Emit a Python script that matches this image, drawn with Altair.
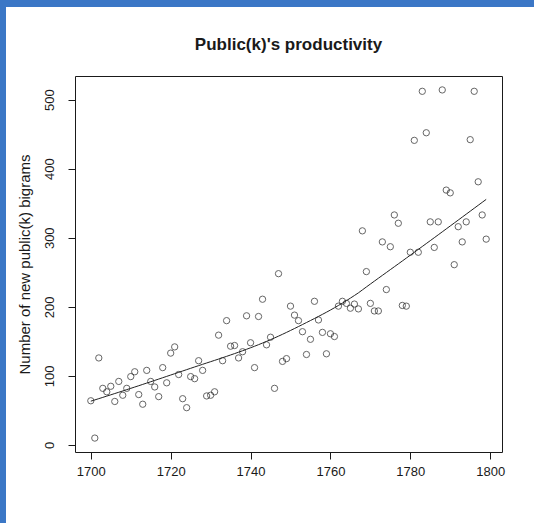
import numpy as np
import pandas as pd
import altair as alt

# New public(k) bigrams per year, 1700-1799
years = list(range(1700, 1800))
bigrams = [
    64, 10, 126, 82, 77, 85, 63, 92, 72, 82,
    99, 106, 73, 59, 108, 92, 84, 70, 112, 90,
    133, 142, 102, 67, 54, 99, 96, 122, 108, 71,
    72, 77, 159, 122, 180, 143, 144, 126, 135, 187,
    148, 112, 186, 211, 145, 156, 82, 248, 121, 125,
    201, 188, 180, 164, 131, 153, 208, 181, 163, 132,
    161, 157, 201, 208, 205, 198, 204, 197, 310, 251,
    205, 194, 194, 294, 225, 287, 333, 321, 202, 201,
    279, 441, 279, 512, 452, 323, 286, 323, 514, 369,
    365, 261, 316, 294, 323, 442, 512, 381, 333, 298,
]
x_ticks = [1700, 1720, 1740, 1760, 1780, 1800]
y_ticks = [0, 100, 200, 300, 400, 500]
title_text = "Public(k)'s productivity"


def lowess(x, y, f=2 / 3, iters=3):
    """Locally weighted linear smoother with robustness iterations (as in R's lowess)."""
    x = np.asarray(x, float)
    y = np.asarray(y, float)
    n = len(x)
    ns = max(2, min(n, int(f * n + 1e-7)))
    rw = np.ones(n)
    fitted = np.zeros(n)
    for it in range(iters + 1):
        for i in range(n):
            d = np.abs(x - x[i])
            h = np.sort(d)[ns - 1]
            u = d / h
            w = np.where(u <= 0.999, (1 - np.clip(u, 0, 1) ** 3) ** 3, 0.0)
            w = np.where(u <= 0.001, 1.0, w) * rw
            sw = w.sum()
            xm = (w * x).sum() / sw
            ym = (w * y).sum() / sw
            sxx = (w * (x - xm) ** 2).sum()
            b = (w * (x - xm) * (y - ym)).sum() / sxx if sxx > 0 else 0.0
            fitted[i] = ym + b * (x[i] - xm)
        if it == iters:
            break
        res = y - fitted
        cmad = 6 * np.median(np.abs(res))
        r = np.abs(res) / cmad
        rw = np.where(r <= 0.999, (1 - np.clip(r, 0, 1) ** 2) ** 2, 0.0)
        rw = np.where(r <= 0.001, 1.0, rw)
    return fitted


df = pd.DataFrame({"year": years, "bigrams": bigrams})
df["smooth"] = lowess(years, bigrams)

FONT = "Liberation Sans"
INK = "#1a1a1a"

x_enc = alt.X(
    "year:Q",
    scale=alt.Scale(domain=[1696.04, 1802.96], nice=False, zero=False),
    axis=alt.Axis(
        values=x_ticks, title=None, grid=False, domain=False, format="d",
        tickSize=7, tickColor=INK, labelPadding=6, labelFontSize=13,
        labelFont=FONT, labelColor=INK,
    ),
)
y_scale = alt.Scale(domain=[-10.16, 534.16], nice=False, zero=False)
y_axis = alt.Axis(
    values=y_ticks, title="Number of new public(k) bigrams", grid=False, domain=False,
    tickSize=7, tickColor=INK, labelAngle=270, labelAlign="center",
    labelBaseline="middle", labelPadding=19, labelFontSize=13, labelFont=FONT,
    labelColor=INK, titleFont=FONT, titleFontSize=15, titleFontWeight="normal",
    titleColor=INK, titleAngle=270, titleAlign="center", titleBaseline="middle",
    titleX=-51, titleY=188,
)

points = alt.Chart(df).mark_point(
    shape="circle", filled=False, size=40, stroke="#262626", strokeWidth=1
).encode(x=x_enc, y=alt.Y("bigrams:Q", scale=y_scale, axis=y_axis))

smooth = alt.Chart(df).mark_line(color="#222222", strokeWidth=1).encode(
    x="year:Q", y=alt.Y("smooth:Q", scale=y_scale)
)

# main title, centred over the plotting region
title = alt.Chart(pd.DataFrame({"t": [title_text]})).mark_text(
    font=FONT, fontSize=17, fontWeight="bold", color=INK,
    align="center", baseline="middle",
).encode(text="t:N", x=alt.value(213.5), y=alt.value(-31))

# slide frame strips along the top and left edges
frame = pd.DataFrame({"part": ["top", "left"]})
top_strip = alt.Chart(frame.iloc[:1]).mark_rect(color="#3b77c6").encode(
    x=alt.value(-75), x2=alt.value(459), y=alt.value(-76), y2=alt.value(-69)
)
left_strip = alt.Chart(frame.iloc[1:]).mark_rect(color="#3b77c6").encode(
    x=alt.value(-75), x2=alt.value(-69), y=alt.value(-69), y2=alt.value(447)
)

chart = (
    alt.layer(points, smooth, title, top_strip, left_strip)
    .properties(
        width=427,
        height=376,
        autosize=alt.AutoSizeParams(type="none"),
        padding={"left": 75, "top": 76, "right": 32, "bottom": 71},
        background="white",
    )
    .configure_view(stroke=INK, strokeWidth=1)
)

chart.save("out.html", embed_options={"renderer": "svg", "actions": False})
